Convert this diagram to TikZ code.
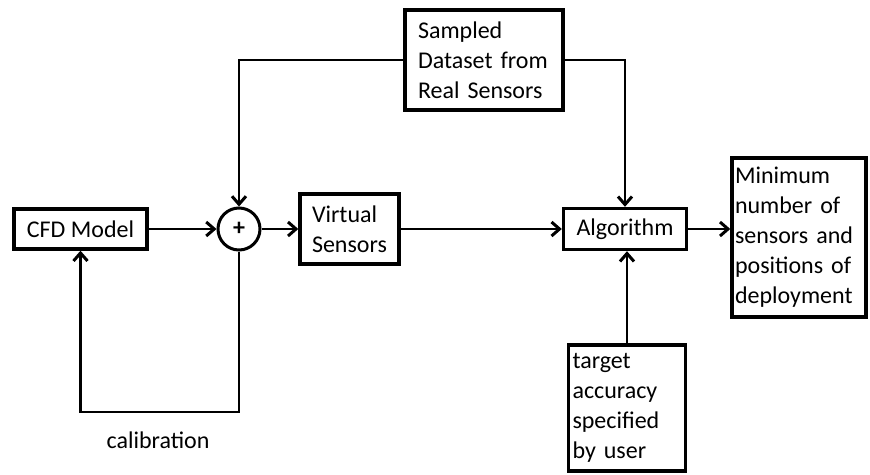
\documentclass[tikz,border=0pt]{standalone}
\usepackage{fontspec}
\setmainfont{Carlito}
\usetikzlibrary{arrows.meta, positioning}

\begin{document}
\begin{tikzpicture}[
    x=1pt, y=-1pt,
    every node/.style={font=\fontsize{24}{30}\selectfont},
    block/.style={draw, line width=3.4pt, align=left, inner ysep=2pt},
    junction/.style={circle, draw, line width=3pt, minimum size=42pt, inner sep=0pt, font=\fontsize{24}{24}\selectfont\bfseries},
    arrow/.style={-{Straight Barb[length=8pt, width=14pt, line width=3pt]}, line width=2.8pt}
  ]
  \useasboundingbox (0,0) rectangle (870,474);

  \node (cfd) [block, minimum width=133pt, minimum height=40pt, align=center] at (80.5,229) {CFD Model};
  \node (sum) [junction] at (239,229) {+};
  \node (virt) [block, minimum height=70pt, inner xsep=12pt, text width=75pt] at (349.5,229) {Virtual\\Sensors};
  \node (sampled) [block, minimum height=100pt, inner xsep=13pt, text width=132pt] at (484,60) {Sampled\\Dataset~from\\Real~Sensors};
  \node (algo) [block, minimum width=123pt, minimum height=41pt, align=center] at (625,229) {Algorithm};
  \node (result) [block, minimum height=159pt, inner xsep=3pt, text width=128pt] at (799,237.5) {Minimum\\number~of\\sensors~and\\positions~of\\deployment};
  \node (target) [block, minimum height=126pt, inner xsep=4pt, text width=109pt] at (627,408) {target\\accuracy\\specified\\by~user};

  \coordinate (calib_turn) at (160,412);
  \node (calib) at (158,440) {calibration};

  \draw [arrow] (cfd) -- (sum);
  \draw [arrow] (sum) -- (virt);
  \draw [arrow] (virt) -- (algo);
  \draw [arrow] (sampled.west) -| (sum.north);
  \draw [arrow] (sampled.east) -| (algo.north);
  \draw [arrow] (algo.east) -- (algo.east -| result.west);
  \draw [arrow] (target.north) -- (target.north |- algo.south);
  \draw [arrow] (sum.south) |- (calib_turn) -| (cfd.south);
\end{tikzpicture}
\end{document}
